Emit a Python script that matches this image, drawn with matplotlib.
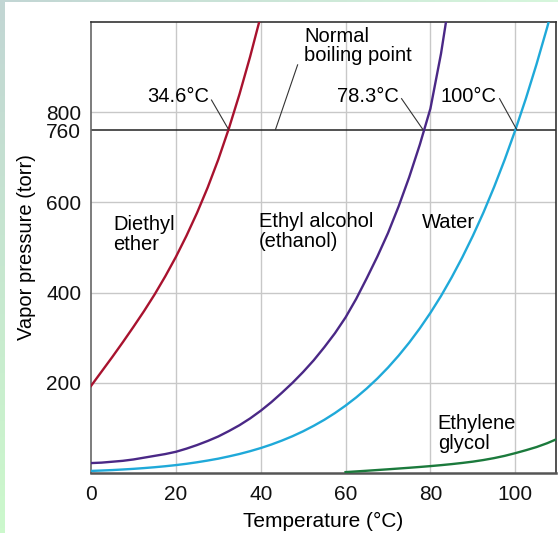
import matplotlib.pyplot as plt
import numpy as np
from matplotlib.colors import LinearSegmentedColormap

plt.rcParams['font.family'] = ['Liberation Sans', 'DejaVu Sans']

# vapor pressure curves (temperature in C, pressure in torr)
ether_t = [0, 2.5, 5, 7.5, 10, 12.5, 15, 17.5, 20, 22.5, 25, 27.5, 30, 32.5, 35, 37.5, 40]
ether_p = [193, 225, 257, 290, 324, 359, 396, 436, 479, 526, 577, 633, 695, 764, 840, 923, 1013]

ethanol_t = [0, 2.5, 5, 7.5, 10, 12.5, 15, 17.5, 20, 22.5, 25, 27.5, 30, 32.5, 35, 37.5, 40,
             42.5, 45, 47.5, 50, 52.5, 55, 57.5, 60, 62.5, 65, 67.5, 70, 72.5, 75, 77.5, 80, 82.5, 85]
ethanol_p = [22, 23, 25, 27, 30, 34, 38, 42, 47, 54, 62, 71, 81, 93, 106, 121, 138,
             157, 178, 200, 224, 250, 279, 310, 345, 386, 432, 480, 532, 591, 656, 728, 808, 930, 1080]

water_t = [0, 2.5, 5, 7.5, 10, 12.5, 15, 17.5, 20, 22.5, 25, 27.5, 30, 32.5, 35, 37.5, 40,
           42.5, 45, 47.5, 50, 52.5, 55, 57.5, 60, 62.5, 65, 67.5, 70, 72.5, 75, 77.5, 80,
           82.5, 85, 87.5, 90, 92.5, 95, 97.5, 100, 102.5, 105, 107.5, 110]
water_p = [4.6, 5.5, 6.5, 7.8, 9.2, 10.9, 12.8, 15.0, 17.5, 20.4, 23.8, 27.6, 31.8, 36.8, 42.2, 48.4, 55.3,
           63.1, 71.9, 81.6, 92.5, 104.7, 118.0, 132.9, 149.4, 167.5, 187.5, 209.5, 233.7, 260.2, 289.1, 320.7, 355.1,
           392.5, 433.6, 477.9, 525.8, 577.6, 633.9, 694.6, 760, 830.3, 906.1, 987.3, 1074.6]

glycol_t = [60, 62.5, 65, 67.5, 70, 72.5, 75, 77.5, 80, 82.5, 85, 87.5, 90, 92.5, 95, 97.5, 100, 102.5, 105, 107.5, 110]
glycol_p = [2, 3.5, 5, 6.6, 8.2, 9.9, 11.6, 13.4, 15.3, 17.4, 19.7, 22.3, 25.2, 28.8, 33, 38, 44, 50.5, 57.5, 66, 76]

normal_bp = 760
x_ticks = [0, 20, 40, 60, 80, 100]
y_ticks = [200, 400, 600, 760, 800]
grid_y = [200, 400, 600, 800]

fig = plt.figure(figsize=(5.58, 5.33), dpi=100)
fig.patch.set_facecolor('white')

# thin tinted strips at the left and top edges
strip = fig.add_axes([0, 0, 5 / 558, 1])
strip.imshow(np.linspace(0, 1, 100).reshape(-1, 1),
             cmap=LinearSegmentedColormap.from_list('s', ['#c2d6d4', '#ccf8cc']), aspect='auto')
strip.axis('off')
topstrip = fig.add_axes([0, 1 - 2.5 / 533, 1, 2.5 / 533])
topstrip.imshow(np.linspace(0, 1, 100).reshape(1, -1),
                cmap=LinearSegmentedColormap.from_list('t', ['#c2d6d4', '#d6f6dc']), aspect='auto')
topstrip.axis('off')

ax = fig.add_axes([91 / 558, 1 - 473 / 533, 465 / 558, 451 / 533])
ax.set_xlim(0, 109.6)
ax.set_ylim(0, 1000)

for gx in x_ticks[1:]:
    ax.axvline(gx, color='#c8c8c8', lw=1.0, zorder=1)
for gy in grid_y:
    ax.axhline(gy, color='#c8c8c8', lw=1.0, zorder=1)
ax.axhline(normal_bp, color='#222222', lw=1.1, zorder=2)

ax.plot(ether_t, ether_p, color='#a8122e', lw=1.7, zorder=3)
ax.plot(ethanol_t, ethanol_p, color='#4a2886', lw=1.7, zorder=3)
ax.plot(water_t, water_p, color='#1fa9d9', lw=1.7, zorder=3)
ax.plot(glycol_t, glycol_p, color='#1b7a3c', lw=1.7, zorder=3)

ax.set_xticks(x_ticks)
ax.set_yticks(y_ticks)
ax.tick_params(length=0, labelsize=15, pad=7, colors='#111111')
ax.tick_params(axis='x', pad=9)
for s in ax.spines.values():
    s.set_color('#333333')
    s.set_linewidth(1.2)
ax.spines['bottom'].set_color('#555555')
ax.spines['bottom'].set_linewidth(1.8)
ax.spines['left'].set_color('#666666')

fs = 14.5
ax.set_xlabel('Temperature (°C)', fontsize=fs + 0.5, labelpad=5)
ax.set_ylabel('Vapor pressure (torr)', fontsize=fs, labelpad=7)

ax.text(5.3, 572, 'Diethyl\nether', fontsize=fs, va='top', ha='left', linespacing=1.05)
ax.text(39.6, 579, 'Ethyl alcohol\n(ethanol)', fontsize=fs, va='top', ha='left', linespacing=1.05)
ax.text(77.9, 576, 'Water', fontsize=fs, va='top', ha='left')
ax.text(81.7, 131, 'Ethylene\nglycol', fontsize=fs, va='top', ha='left', linespacing=1.05)
ax.text(50.2, 990, 'Normal\nboiling point', fontsize=fs, va='top', ha='left', linespacing=1.05)

ax.text(27.8, 835, '34.6°C', fontsize=fs, va='center', ha='right')
ax.text(72.6, 835, '78.3°C', fontsize=fs, va='center', ha='right')
ax.text(95.5, 835, '100°C', fontsize=fs, va='center', ha='right')

# leader lines
ax.plot([28.4, 32.4], [827, 762], color='#333333', lw=0.8, zorder=4)
ax.plot([73.2, 78.2], [830, 762], color='#333333', lw=0.8, zorder=4)
ax.plot([96.3, 100.3], [830, 762], color='#333333', lw=0.8, zorder=4)
ax.plot([48.7, 43.5], [905, 762], color='#333333', lw=0.8, zorder=4)

fig.savefig('out.png', dpi=100)
